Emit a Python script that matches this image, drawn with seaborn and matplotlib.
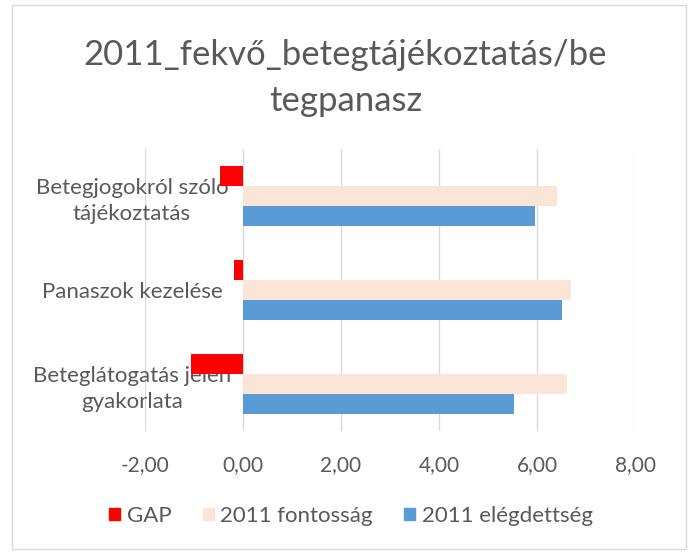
import pandas as pd
import matplotlib.pyplot as plt
import matplotlib.patches as mpatches
import seaborn as sns

# Chart data
categories = ['Betegjogokról szóló\ntájékoztatás', 'Panaszok kezelése', 'Beteglátogatás jelen\ngyakorlata']
series = ['GAP', '2011 fontosság', '2011 elégdettség']
gap = [-0.46, -0.19, -1.07]
fontossag = [6.41, 6.69, 6.61]
elegedettseg = [5.95, 6.50, 5.54]
xticks = [-2, 0, 2, 4, 6, 8]
xtick_labels = ['-2,00', '0,00', '2,00', '4,00', '6,00', '8,00']
colors = {'GAP': '#FF0000', '2011 fontosság': '#FBE5D6', '2011 elégdettség': '#5B9BD5'}

# Long-form table for seaborn
rows = []
for name, vals in zip(series, [gap, fontossag, elegedettseg]):
    for cat, v in zip(categories, vals):
        rows.append({'kategoria': cat, 'sorozat': name, 'ertek': v})
df = pd.DataFrame(rows)

sns.set_style('white')
plt.rcParams['font.family'] = ['Lato', 'DejaVu Sans']
text_color = '#595959'

fig = plt.figure(figsize=(6.91, 5.52), dpi=100)
ax = fig.add_axes([145 / 691, 1 - 431 / 552, 490 / 691, 282 / 552])

sns.barplot(data=df, x='ertek', y='kategoria', hue='sorozat', orient='h',
            order=categories, hue_order=series, palette=colors,
            width=0.63, linewidth=0, saturation=1, ax=ax)

ax.set_xlim(-2, 8)
ax.set_ylim(2.5, -0.5)
ax.set_xticks(xticks, xtick_labels)
ax.set_xlabel('')
ax.set_ylabel('')
ax.grid(axis='x', color='#d9d9d9', linewidth=1)
ax.set_axisbelow(True)
for s in ['top', 'right', 'bottom']:
    ax.spines[s].set_visible(False)
ax.spines['left'].set_position(('data', 0))
ax.spines['left'].set_visible(False)

# category labels centred around x ~ 132 px
ax.tick_params(axis='y', length=0, pad=80, labelsize=16, labelcolor=text_color)
ax.tick_params(axis='x', length=0, pad=17, labelsize=15, labelcolor=text_color)
for lbl in ax.get_yticklabels():
    lbl.set_ha('center')
    lbl.set_multialignment('center')
    lbl.set_linespacing(1.35)

# Legend at the bottom
ax.get_legend().remove()
handles = [mpatches.Patch(color=colors[s], label=s) for s in series]
fig.legend(handles=handles, loc='center', bbox_to_anchor=(351 / 691, 1 - 516 / 552),
           ncol=3, frameon=False, fontsize=16, labelcolor=text_color,
           handlelength=0.5, handleheight=0.5, handletextpad=0.3, columnspacing=1.4)

# Title
fig.text(0.5, 1 - 78 / 552, '2011_fekvő_betegtájékoztatás/be\ntegpanasz',
         ha='center', va='center', fontsize=25, color=text_color, linespacing=1.55)

# Chart border
fig.patches.append(mpatches.Rectangle((12 / 691, 3 / 552), 674 / 691, 544 / 552,
                                      transform=fig.transFigure, fill=False,
                                      edgecolor='#d9d9d9', linewidth=1))

fig.savefig('out.png', dpi=100)
